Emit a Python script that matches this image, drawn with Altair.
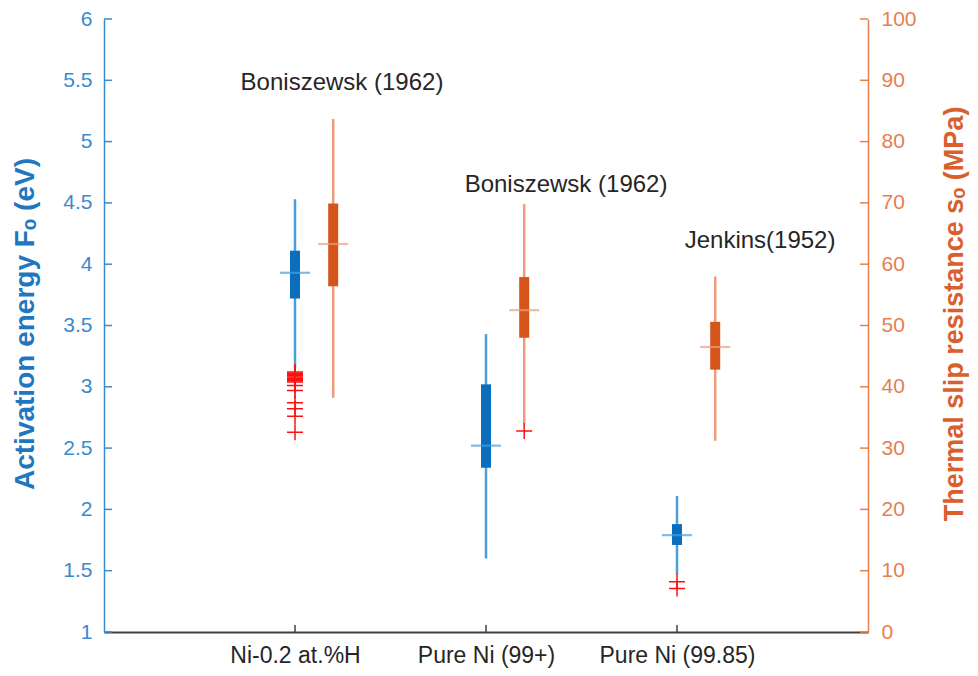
import altair as alt
import pandas as pd

# ---------------- data ----------------
categories = ["Ni-0.2 at.%H", "Pure Ni (99+)", "Pure Ni (99.85)"]

# Activation energy F_o (eV) - left axis (blue)
F_lo = [3.15, 1.60, 1.47]
F_q1 = [3.72, 2.34, 1.71]
F_med = [3.93, 2.52, 1.79]
F_q3 = [4.11, 3.02, 1.88]
F_hi = [4.53, 3.43, 2.11]
F_out_group = [0, 0, 0, 0, 0, 0, 0, 0, 0, 0, 0, 0, 0, 0, 0, 2, 2]
F_out_val = [3.12, 3.11, 3.10, 3.09, 3.08, 3.07, 3.06, 3.05, 3.04,
             3.01, 2.97, 2.87, 2.82, 2.76, 2.63, 1.41, 1.355]

# Thermal slip resistance s_o (MPa) - right axis (orange)
s_lo = [38.2, 34.0, 31.2]
s_q1 = [56.4, 48.0, 42.8]
s_med = [63.3, 52.5, 46.5]
s_q3 = [69.9, 57.9, 50.6]
s_hi = [83.7, 69.8, 58.0]
s_out_group = [1]
s_out_val = [32.8]

left_ticks = [1, 1.5, 2, 2.5, 3, 3.5, 4, 4.5, 5, 5.5, 6]
right_ticks = [0, 10, 20, 30, 40, 50, 60, 70, 80, 90, 100]

notes = ["Boniszewsk (1962)", "Boniszewsk (1962)", "Jenkins(1952)"]
note_x = [1.246, 2.419, 3.435]
note_y = [5.48, 4.65, 4.19]

# ---------------- style ----------------
W, H = 764, 613
FONT = "Liberation Sans"
BLUE_AX = "#3A8BCD"
BLUE_TITLE = "#1F77C0"
BLUE_BOX = "#0A6EBD"
BLUE_WHISK = "#4A9EDB"
ORANGE_AX = "#E6804F"
ORANGE_TITLE = "#D9602C"
ORANGE_BOX = "#D4541A"
ORANGE_WHISK = "#EE9C7B"
RED = "#FF1010"
OFFSET = 0.2
PLUS = "M-1,0L1,0M0,-1L0,1"

xs_blue = [i + 1 for i in range(len(categories))]
xs_orange = [i + 1 + OFFSET for i in range(len(categories))]

blue_df = pd.DataFrame({"x": xs_blue, "lo": F_lo, "q1": F_q1, "med": F_med,
                        "q3": F_q3, "hi": F_hi})
orange_df = pd.DataFrame({"x": xs_orange, "lo": s_lo, "q1": s_q1, "med": s_med,
                          "q3": s_q3, "hi": s_hi})
blue_out = pd.DataFrame({"x": [g + 1 for g in F_out_group], "v": F_out_val})
orange_out = pd.DataFrame({"x": [g + 1 + OFFSET for g in s_out_group], "v": s_out_val})
lt_df = pd.DataFrame({"v": left_ticks})
rt_df = pd.DataFrame({"v": right_ticks})
xt_df = pd.DataFrame({"x": xs_blue})
note_df = pd.DataFrame({"x": note_x, "y": note_y, "t": notes})

label_expr = " : ".join(
    [f"datum.value == {i + 1} ? '{c}'" for i, c in enumerate(categories)]) + " : ''"

xscale = alt.Scale(domain=[0, 4], nice=False, zero=False)
xaxis = alt.Axis(values=xs_blue, labelExpr=label_expr, title=None, grid=False,
                 ticks=False, tickSize=0, labelPadding=12, domainColor="#404040",
                 domainWidth=2, labelColor="#262626", labelFont=FONT,
                 labelFontSize=23)

lscale = alt.Scale(domain=[1, 6], nice=False, zero=False)
laxis = alt.Axis(orient="left", values=left_ticks, format="~g",
                 title="Activation energy Fₒ (eV)", grid=False, ticks=False,
                 tickSize=0, labelPadding=12, domainColor=BLUE_AX, domainWidth=1.5,
                 labelColor=BLUE_AX, labelFont=FONT, labelFontSize=21,
                 titleColor=BLUE_TITLE, titleFont=FONT, titleFontSize=28,
                 titleFontWeight="bold", titleAngle=270, titleX=-71,
                 titleY=H / 2 - 2, titleAlign="center", titleBaseline="alphabetic")

rscale = alt.Scale(domain=[0, 100], nice=False, zero=False)
raxis = alt.Axis(orient="right", values=right_ticks, format="d",
                 title="Thermal slip resistance sₒ (MPa)", grid=False, ticks=False,
                 tickSize=0, labelPadding=13, domainColor=ORANGE_AX, domainWidth=1.5,
                 labelColor=ORANGE_AX, labelFont=FONT, labelFontSize=21,
                 titleColor=ORANGE_TITLE, titleFont=FONT, titleFontSize=27,
                 titleFontWeight="bold", titleAngle=270, titleX=94,
                 titleY=H / 2 - 12, titleAlign="center", titleBaseline="alphabetic")

X = alt.X("x:Q", scale=xscale, axis=xaxis)

# ---------------- left (blue) ----------------
b_whisk = alt.Chart(blue_df).mark_rule(color=BLUE_WHISK, strokeWidth=2.5).encode(
    x=X, y=alt.Y("lo:Q", scale=lscale, axis=laxis), y2="hi:Q")
b_box = alt.Chart(blue_df).mark_rule(color=BLUE_BOX, strokeWidth=10).encode(
    x="x:Q", y="q1:Q", y2="q3:Q")
b_med = alt.Chart(blue_df).mark_tick(color=BLUE_WHISK, orient="horizontal",
                                     size=30, thickness=2.2).encode(
    x="x:Q", y="med:Q")
b_out = alt.Chart(blue_out).mark_point(shape=PLUS, size=256, filled=False,
                                       color=RED, strokeWidth=1.5, opacity=1).encode(
    x="x:Q", y="v:Q")
l_ticks = alt.Chart(lt_df).mark_rule(color=BLUE_AX, strokeWidth=1.5).encode(
    y="v:Q", x=alt.value(0), x2=alt.value(8))
x_ticks = alt.Chart(xt_df).mark_rule(color="#404040", strokeWidth=1.5).encode(
    x="x:Q", y=alt.value(H), y2=alt.value(H - 7))
texts = alt.Chart(note_df).mark_text(font=FONT, fontSize=24, color="#262626",
                                     align="center", baseline="middle").encode(
    x="x:Q", y="y:Q", text="t:N")

left = alt.layer(b_whisk, b_box, b_med, b_out, l_ticks, x_ticks, texts)

# ---------------- right (orange) ----------------
o_whisk = alt.Chart(orange_df).mark_rule(color=ORANGE_WHISK, strokeWidth=2.5).encode(
    x="x:Q", y=alt.Y("lo:Q", scale=rscale, axis=raxis), y2="hi:Q")
o_box = alt.Chart(orange_df).mark_rule(color=ORANGE_BOX, strokeWidth=10).encode(
    x="x:Q", y="q1:Q", y2="q3:Q")
o_med = alt.Chart(orange_df).mark_tick(color=ORANGE_WHISK, orient="horizontal",
                                       size=30, thickness=2.2).encode(
    x="x:Q", y="med:Q")
o_out = alt.Chart(orange_out).mark_point(shape=PLUS, size=256, filled=False,
                                         color=RED, strokeWidth=1.5, opacity=1).encode(
    x="x:Q", y="v:Q")
r_ticks = alt.Chart(rt_df).mark_rule(color=ORANGE_AX, strokeWidth=1.5).encode(
    y="v:Q", x=alt.value(W - 8), x2=alt.value(W))

right = alt.layer(o_whisk, o_box, o_med, o_out, r_ticks)

chart = alt.layer(left, right).resolve_scale(y="independent").properties(
    width=W, height=H,
    autosize=alt.AutoSizeParams(type="none"),
    padding={"left": 96, "top": 11, "right": 102, "bottom": 36},
    background="white",
).configure_view(stroke=None)

chart.save("out.html", embed_options={"renderer": "svg", "actions": False})
